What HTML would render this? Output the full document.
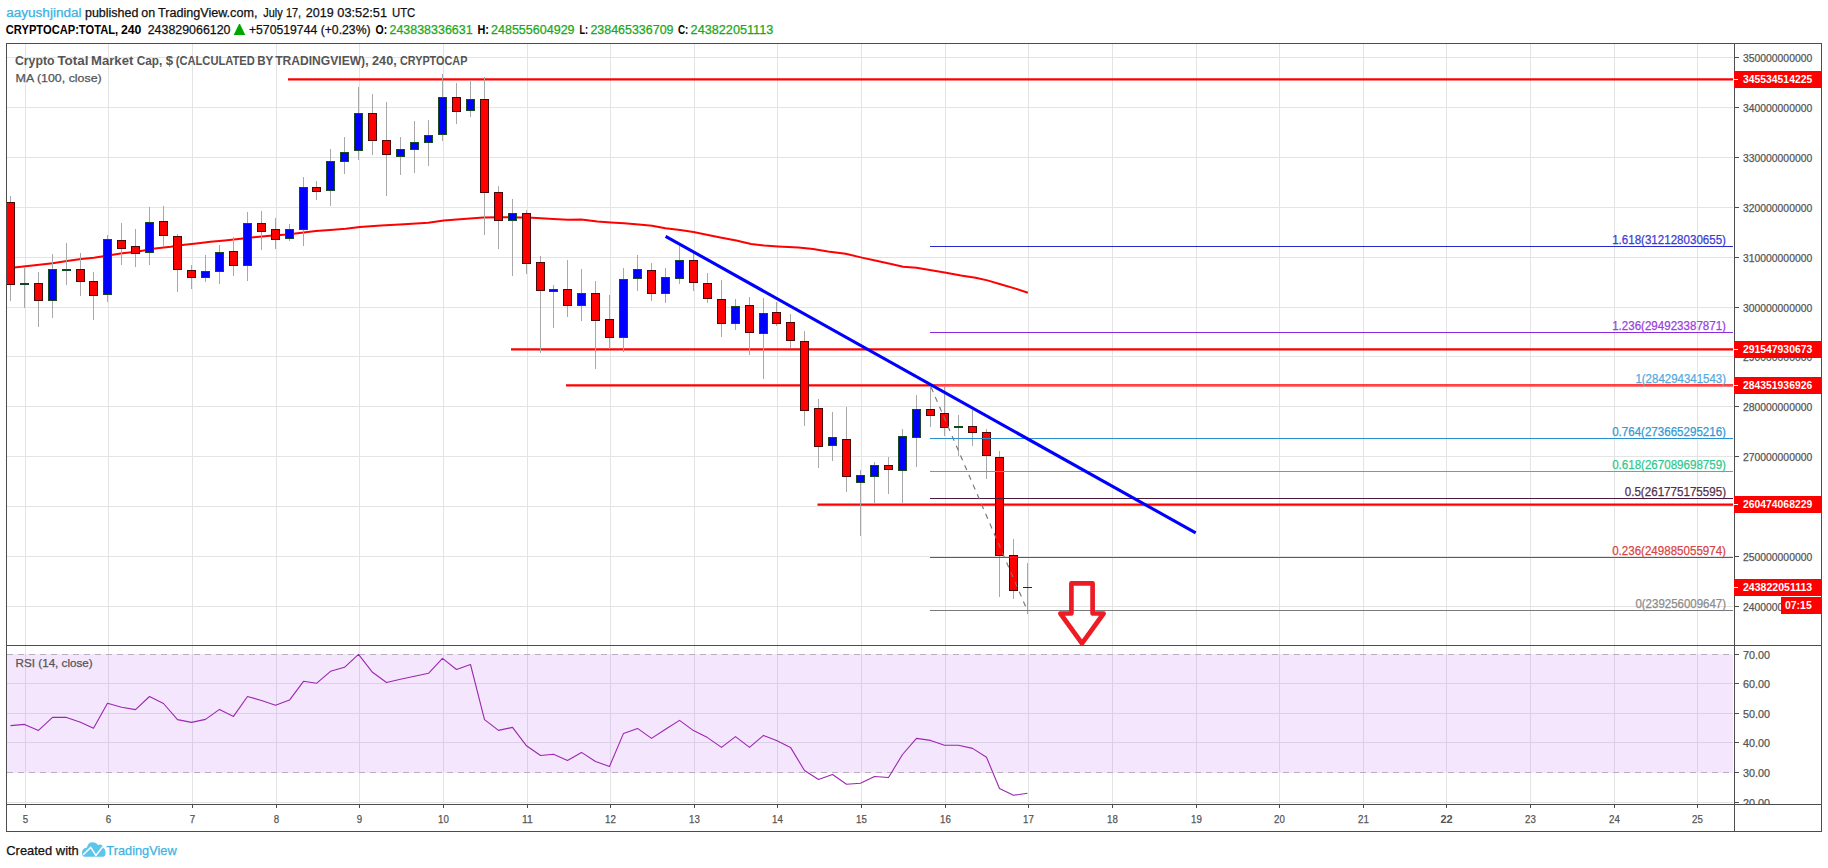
<!DOCTYPE html>
<html lang="en"><head><meta charset="utf-8"><title>Crypto Total Market Cap chart</title>
<style>html,body{margin:0;padding:0;background:#fff;}svg text{font-family:"Liberation Sans",sans-serif;}</style></head>
<body>
<svg width="1828" height="868" viewBox="0 0 1828 868" style="display:block">
<rect x="0" y="0" width="1828" height="868" fill="#ffffff"/>
<g shape-rendering="crispEdges">
<rect x="7" y="654" width="1726" height="119" fill="#f4e6fd"/>
<rect x="25" y="44" width="1" height="601" fill="#e4e4e4"/>
<rect x="25" y="646" width="1" height="158" fill="#e4e4e4"/>
<rect x="25" y="654" width="1" height="118" fill="#dccfe8"/>
<rect x="108" y="44" width="1" height="601" fill="#e4e4e4"/>
<rect x="108" y="646" width="1" height="158" fill="#e4e4e4"/>
<rect x="108" y="654" width="1" height="118" fill="#dccfe8"/>
<rect x="192" y="44" width="1" height="601" fill="#e4e4e4"/>
<rect x="192" y="646" width="1" height="158" fill="#e4e4e4"/>
<rect x="192" y="654" width="1" height="118" fill="#dccfe8"/>
<rect x="276" y="44" width="1" height="601" fill="#e4e4e4"/>
<rect x="276" y="646" width="1" height="158" fill="#e4e4e4"/>
<rect x="276" y="654" width="1" height="118" fill="#dccfe8"/>
<rect x="359" y="44" width="1" height="601" fill="#e4e4e4"/>
<rect x="359" y="646" width="1" height="158" fill="#e4e4e4"/>
<rect x="359" y="654" width="1" height="118" fill="#dccfe8"/>
<rect x="443" y="44" width="1" height="601" fill="#e4e4e4"/>
<rect x="443" y="646" width="1" height="158" fill="#e4e4e4"/>
<rect x="443" y="654" width="1" height="118" fill="#dccfe8"/>
<rect x="527" y="44" width="1" height="601" fill="#e4e4e4"/>
<rect x="527" y="646" width="1" height="158" fill="#e4e4e4"/>
<rect x="527" y="654" width="1" height="118" fill="#dccfe8"/>
<rect x="610" y="44" width="1" height="601" fill="#e4e4e4"/>
<rect x="610" y="646" width="1" height="158" fill="#e4e4e4"/>
<rect x="610" y="654" width="1" height="118" fill="#dccfe8"/>
<rect x="694" y="44" width="1" height="601" fill="#e4e4e4"/>
<rect x="694" y="646" width="1" height="158" fill="#e4e4e4"/>
<rect x="694" y="654" width="1" height="118" fill="#dccfe8"/>
<rect x="777" y="44" width="1" height="601" fill="#e4e4e4"/>
<rect x="777" y="646" width="1" height="158" fill="#e4e4e4"/>
<rect x="777" y="654" width="1" height="118" fill="#dccfe8"/>
<rect x="861" y="44" width="1" height="601" fill="#e4e4e4"/>
<rect x="861" y="646" width="1" height="158" fill="#e4e4e4"/>
<rect x="861" y="654" width="1" height="118" fill="#dccfe8"/>
<rect x="945" y="44" width="1" height="601" fill="#e4e4e4"/>
<rect x="945" y="646" width="1" height="158" fill="#e4e4e4"/>
<rect x="945" y="654" width="1" height="118" fill="#dccfe8"/>
<rect x="1028" y="44" width="1" height="601" fill="#e4e4e4"/>
<rect x="1028" y="646" width="1" height="158" fill="#e4e4e4"/>
<rect x="1028" y="654" width="1" height="118" fill="#dccfe8"/>
<rect x="1112" y="44" width="1" height="601" fill="#e4e4e4"/>
<rect x="1112" y="646" width="1" height="158" fill="#e4e4e4"/>
<rect x="1112" y="654" width="1" height="118" fill="#dccfe8"/>
<rect x="1196" y="44" width="1" height="601" fill="#e4e4e4"/>
<rect x="1196" y="646" width="1" height="158" fill="#e4e4e4"/>
<rect x="1196" y="654" width="1" height="118" fill="#dccfe8"/>
<rect x="1279" y="44" width="1" height="601" fill="#e4e4e4"/>
<rect x="1279" y="646" width="1" height="158" fill="#e4e4e4"/>
<rect x="1279" y="654" width="1" height="118" fill="#dccfe8"/>
<rect x="1363" y="44" width="1" height="601" fill="#e4e4e4"/>
<rect x="1363" y="646" width="1" height="158" fill="#e4e4e4"/>
<rect x="1363" y="654" width="1" height="118" fill="#dccfe8"/>
<rect x="1446" y="44" width="1" height="601" fill="#e4e4e4"/>
<rect x="1446" y="646" width="1" height="158" fill="#e4e4e4"/>
<rect x="1446" y="654" width="1" height="118" fill="#dccfe8"/>
<rect x="1530" y="44" width="1" height="601" fill="#e4e4e4"/>
<rect x="1530" y="646" width="1" height="158" fill="#e4e4e4"/>
<rect x="1530" y="654" width="1" height="118" fill="#dccfe8"/>
<rect x="1614" y="44" width="1" height="601" fill="#e4e4e4"/>
<rect x="1614" y="646" width="1" height="158" fill="#e4e4e4"/>
<rect x="1614" y="654" width="1" height="118" fill="#dccfe8"/>
<rect x="1697" y="44" width="1" height="601" fill="#e4e4e4"/>
<rect x="1697" y="646" width="1" height="158" fill="#e4e4e4"/>
<rect x="1697" y="654" width="1" height="118" fill="#dccfe8"/>
<rect x="7" y="57" width="1726" height="1" fill="#e4e4e4"/>
<rect x="7" y="107" width="1726" height="1" fill="#e4e4e4"/>
<rect x="7" y="157" width="1726" height="1" fill="#e4e4e4"/>
<rect x="7" y="207" width="1726" height="1" fill="#e4e4e4"/>
<rect x="7" y="257" width="1726" height="1" fill="#e4e4e4"/>
<rect x="7" y="307" width="1726" height="1" fill="#e4e4e4"/>
<rect x="7" y="356" width="1726" height="1" fill="#e4e4e4"/>
<rect x="7" y="406" width="1726" height="1" fill="#e4e4e4"/>
<rect x="7" y="456" width="1726" height="1" fill="#e4e4e4"/>
<rect x="7" y="506" width="1726" height="1" fill="#e4e4e4"/>
<rect x="7" y="556" width="1726" height="1" fill="#e4e4e4"/>
<rect x="7" y="606" width="1726" height="1" fill="#e4e4e4"/>
<rect x="7" y="683" width="1726" height="1" fill="#dccfe8"/>
<rect x="7" y="713" width="1726" height="1" fill="#dccfe8"/>
<rect x="7" y="742" width="1726" height="1" fill="#dccfe8"/>
<rect x="7" y="802" width="1726" height="1" fill="#e4e4e4"/>
<line x1="7" y1="654.5" x2="1733" y2="654.5" stroke="#b8b0bc" stroke-width="1" stroke-dasharray="6,5"/>
<line x1="7" y1="772.5" x2="1733" y2="772.5" stroke="#b8b0bc" stroke-width="1" stroke-dasharray="6,5"/>
</g>
<polyline fill="none" stroke="#ff0000" stroke-width="2" stroke-linejoin="round" points="7,268.2 14.2,267.4 37,264.9 52.6,263.2 66.9,260.9 81.1,258.9 93.9,257.8 108.1,255.5 122.3,253.2 136.6,251.8 155,248.4 170.7,246.7 182.1,245 196.3,243.5 210.5,241.8 224.8,240.4 236.1,239.3 247.5,238.1 261.7,236.4 273.1,235.6 287.3,234.4 301.6,232.7 315.8,231 330,229.9 345.7,228.7 359.9,227 381.2,225.6 404,224.2 428.2,222.8 443.8,220.5 466.6,218.8 483.6,217.6 500,217.2 532.5,217.7 553.2,218.9 567.9,219.8 581.2,219.5 597.5,221.6 610.8,222.5 624.1,223.3 638.8,224.5 652.1,225.7 665.4,228.3 680.2,230.1 693.5,232 706.8,234.7 721.6,237.7 736.3,240.5 751.1,244 764.4,245.5 777.7,246.4 798.4,247.6 813.1,249 827.9,251.4 845.6,253.8 861.9,257.6 875.2,260.6 890,263.8 903.2,266.8 916.5,267.7 931.3,270.3 946.1,272.7 960.9,275.6 975.6,277.7 987.4,280.4 1002.2,284.8 1015.5,288.6 1027.9,292.8"/>
<line x1="288" y1="79.45" x2="1733" y2="79.45" stroke="#ff0000" stroke-width="2.2"/>
<line x1="511" y1="349.42" x2="1733" y2="349.42" stroke="#ff0000" stroke-width="2.2"/>
<line x1="566" y1="385.36" x2="1733" y2="385.36" stroke="#ff0000" stroke-width="2.2"/>
<line x1="817.5" y1="504.63" x2="1733" y2="504.63" stroke="#ff0000" stroke-width="2.2"/>
<g shape-rendering="crispEdges">
<rect x="10" y="196" width="1" height="105" fill="#a8a8a8"/>
<rect x="7" y="202" width="8" height="83" fill="#4a0808"/>
<rect x="7" y="203" width="7" height="81" fill="#ff0000"/>
<rect x="24" y="268" width="1" height="40" fill="#a8a8a8"/>
<rect x="20" y="283" width="9" height="2" fill="#0b4a22"/>
<rect x="38" y="272" width="1" height="55" fill="#a8a8a8"/>
<rect x="34" y="283" width="9" height="18" fill="#4a0808"/>
<rect x="35" y="284" width="7" height="16" fill="#ff0000"/>
<rect x="52" y="254" width="1" height="64" fill="#a8a8a8"/>
<rect x="48" y="269" width="9" height="32" fill="#1a4a20"/>
<rect x="49" y="270" width="7" height="30" fill="#0000ff"/>
<rect x="66" y="243" width="1" height="42" fill="#a8a8a8"/>
<rect x="62" y="269" width="9" height="2" fill="#0b4a22"/>
<rect x="80" y="253" width="1" height="43" fill="#a8a8a8"/>
<rect x="76" y="269" width="9" height="13" fill="#4a0808"/>
<rect x="77" y="270" width="7" height="11" fill="#ff0000"/>
<rect x="93" y="272" width="1" height="48" fill="#a8a8a8"/>
<rect x="89" y="281" width="9" height="15" fill="#4a0808"/>
<rect x="90" y="282" width="7" height="13" fill="#ff0000"/>
<rect x="107" y="235" width="1" height="67" fill="#a8a8a8"/>
<rect x="103" y="239" width="9" height="56" fill="#1a4a20"/>
<rect x="104" y="240" width="7" height="54" fill="#0000ff"/>
<rect x="121" y="223" width="1" height="42" fill="#a8a8a8"/>
<rect x="117" y="240" width="9" height="9" fill="#4a0808"/>
<rect x="118" y="241" width="7" height="7" fill="#ff0000"/>
<rect x="135" y="229" width="1" height="38" fill="#a8a8a8"/>
<rect x="131" y="246" width="9" height="8" fill="#4a0808"/>
<rect x="132" y="247" width="7" height="6" fill="#ff0000"/>
<rect x="149" y="207" width="1" height="58" fill="#a8a8a8"/>
<rect x="145" y="222" width="9" height="31" fill="#1a4a20"/>
<rect x="146" y="223" width="7" height="29" fill="#0000ff"/>
<rect x="163" y="206" width="1" height="41" fill="#a8a8a8"/>
<rect x="159" y="221" width="9" height="15" fill="#4a0808"/>
<rect x="160" y="222" width="7" height="13" fill="#ff0000"/>
<rect x="177" y="234" width="1" height="58" fill="#a8a8a8"/>
<rect x="173" y="236" width="9" height="34" fill="#4a0808"/>
<rect x="174" y="237" width="7" height="32" fill="#ff0000"/>
<rect x="191" y="265" width="1" height="24" fill="#a8a8a8"/>
<rect x="187" y="270" width="9" height="8" fill="#4a0808"/>
<rect x="188" y="271" width="7" height="6" fill="#ff0000"/>
<rect x="205" y="255" width="1" height="27" fill="#a8a8a8"/>
<rect x="201" y="271" width="9" height="7" fill="#1a4a20"/>
<rect x="202" y="272" width="7" height="5" fill="#0000ff"/>
<rect x="219" y="245" width="1" height="39" fill="#a8a8a8"/>
<rect x="215" y="252" width="9" height="20" fill="#1a4a20"/>
<rect x="216" y="253" width="7" height="18" fill="#0000ff"/>
<rect x="233" y="237" width="1" height="39" fill="#a8a8a8"/>
<rect x="229" y="251" width="9" height="15" fill="#4a0808"/>
<rect x="230" y="252" width="7" height="13" fill="#ff0000"/>
<rect x="247" y="212" width="1" height="69" fill="#a8a8a8"/>
<rect x="243" y="223" width="9" height="43" fill="#1a4a20"/>
<rect x="244" y="224" width="7" height="41" fill="#0000ff"/>
<rect x="261" y="211" width="1" height="39" fill="#a8a8a8"/>
<rect x="257" y="223" width="9" height="9" fill="#4a0808"/>
<rect x="258" y="224" width="7" height="7" fill="#ff0000"/>
<rect x="275" y="218" width="1" height="31" fill="#a8a8a8"/>
<rect x="271" y="229" width="9" height="11" fill="#4a0808"/>
<rect x="272" y="230" width="7" height="9" fill="#ff0000"/>
<rect x="289" y="224" width="1" height="17" fill="#a8a8a8"/>
<rect x="285" y="229" width="9" height="10" fill="#1a4a20"/>
<rect x="286" y="230" width="7" height="8" fill="#0000ff"/>
<rect x="303" y="177" width="1" height="69" fill="#a8a8a8"/>
<rect x="299" y="187" width="9" height="43" fill="#1a4a20"/>
<rect x="300" y="188" width="7" height="41" fill="#0000ff"/>
<rect x="316" y="181" width="1" height="19" fill="#a8a8a8"/>
<rect x="312" y="187" width="9" height="5" fill="#4a0808"/>
<rect x="313" y="188" width="7" height="3" fill="#ff0000"/>
<rect x="330" y="149" width="1" height="57" fill="#a8a8a8"/>
<rect x="326" y="161" width="9" height="30" fill="#1a4a20"/>
<rect x="327" y="162" width="7" height="28" fill="#0000ff"/>
<rect x="344" y="137" width="1" height="37" fill="#a8a8a8"/>
<rect x="340" y="152" width="9" height="10" fill="#1a4a20"/>
<rect x="341" y="153" width="7" height="8" fill="#0000ff"/>
<rect x="358" y="87" width="1" height="73" fill="#a8a8a8"/>
<rect x="354" y="113" width="9" height="38" fill="#1a4a20"/>
<rect x="355" y="114" width="7" height="36" fill="#0000ff"/>
<rect x="372" y="94" width="1" height="61" fill="#a8a8a8"/>
<rect x="368" y="113" width="9" height="28" fill="#4a0808"/>
<rect x="369" y="114" width="7" height="26" fill="#ff0000"/>
<rect x="386" y="102" width="1" height="94" fill="#a8a8a8"/>
<rect x="382" y="140" width="9" height="15" fill="#4a0808"/>
<rect x="383" y="141" width="7" height="13" fill="#ff0000"/>
<rect x="400" y="137" width="1" height="38" fill="#a8a8a8"/>
<rect x="396" y="149" width="9" height="8" fill="#1a4a20"/>
<rect x="397" y="150" width="7" height="6" fill="#0000ff"/>
<rect x="414" y="121" width="1" height="52" fill="#a8a8a8"/>
<rect x="410" y="142" width="9" height="8" fill="#1a4a20"/>
<rect x="411" y="143" width="7" height="6" fill="#0000ff"/>
<rect x="428" y="120" width="1" height="46" fill="#a8a8a8"/>
<rect x="424" y="135" width="9" height="8" fill="#1a4a20"/>
<rect x="425" y="136" width="7" height="6" fill="#0000ff"/>
<rect x="442" y="74" width="1" height="67" fill="#a8a8a8"/>
<rect x="438" y="97" width="9" height="38" fill="#1a4a20"/>
<rect x="439" y="98" width="7" height="36" fill="#0000ff"/>
<rect x="456" y="83" width="1" height="41" fill="#a8a8a8"/>
<rect x="452" y="97" width="9" height="15" fill="#4a0808"/>
<rect x="453" y="98" width="7" height="13" fill="#ff0000"/>
<rect x="470" y="80" width="1" height="37" fill="#a8a8a8"/>
<rect x="466" y="99" width="9" height="12" fill="#1a4a20"/>
<rect x="467" y="100" width="7" height="10" fill="#0000ff"/>
<rect x="484" y="77" width="1" height="158" fill="#a8a8a8"/>
<rect x="480" y="99" width="9" height="94" fill="#4a0808"/>
<rect x="481" y="100" width="7" height="92" fill="#ff0000"/>
<rect x="498" y="186" width="1" height="63" fill="#a8a8a8"/>
<rect x="494" y="192" width="9" height="29" fill="#4a0808"/>
<rect x="495" y="193" width="7" height="27" fill="#ff0000"/>
<rect x="512" y="199" width="1" height="77" fill="#a8a8a8"/>
<rect x="508" y="213" width="9" height="8" fill="#1a4a20"/>
<rect x="509" y="214" width="7" height="6" fill="#0000ff"/>
<rect x="526" y="210" width="1" height="64" fill="#a8a8a8"/>
<rect x="522" y="213" width="9" height="51" fill="#4a0808"/>
<rect x="523" y="214" width="7" height="49" fill="#ff0000"/>
<rect x="540" y="256" width="1" height="97" fill="#a8a8a8"/>
<rect x="536" y="262" width="9" height="29" fill="#4a0808"/>
<rect x="537" y="263" width="7" height="27" fill="#ff0000"/>
<rect x="553" y="285" width="1" height="43" fill="#a8a8a8"/>
<rect x="549" y="289" width="9" height="3" fill="#1a4a20"/>
<rect x="550" y="290" width="7" height="1" fill="#0000ff"/>
<rect x="567" y="260" width="1" height="57" fill="#a8a8a8"/>
<rect x="563" y="289" width="9" height="17" fill="#4a0808"/>
<rect x="564" y="290" width="7" height="15" fill="#ff0000"/>
<rect x="581" y="269" width="1" height="52" fill="#a8a8a8"/>
<rect x="577" y="293" width="9" height="13" fill="#1a4a20"/>
<rect x="578" y="294" width="7" height="11" fill="#0000ff"/>
<rect x="595" y="281" width="1" height="88" fill="#a8a8a8"/>
<rect x="591" y="293" width="9" height="28" fill="#4a0808"/>
<rect x="592" y="294" width="7" height="26" fill="#ff0000"/>
<rect x="609" y="295" width="1" height="54" fill="#a8a8a8"/>
<rect x="605" y="319" width="9" height="19" fill="#4a0808"/>
<rect x="606" y="320" width="7" height="17" fill="#ff0000"/>
<rect x="623" y="268" width="1" height="84" fill="#a8a8a8"/>
<rect x="619" y="279" width="9" height="59" fill="#1a4a20"/>
<rect x="620" y="280" width="7" height="57" fill="#0000ff"/>
<rect x="637" y="255" width="1" height="36" fill="#a8a8a8"/>
<rect x="633" y="269" width="9" height="10" fill="#1a4a20"/>
<rect x="634" y="270" width="7" height="8" fill="#0000ff"/>
<rect x="651" y="263" width="1" height="38" fill="#a8a8a8"/>
<rect x="647" y="270" width="9" height="24" fill="#4a0808"/>
<rect x="648" y="271" width="7" height="22" fill="#ff0000"/>
<rect x="665" y="268" width="1" height="35" fill="#a8a8a8"/>
<rect x="661" y="277" width="9" height="17" fill="#1a4a20"/>
<rect x="662" y="278" width="7" height="15" fill="#0000ff"/>
<rect x="679" y="246" width="1" height="38" fill="#a8a8a8"/>
<rect x="675" y="260" width="9" height="19" fill="#1a4a20"/>
<rect x="676" y="261" width="7" height="17" fill="#0000ff"/>
<rect x="693" y="253" width="1" height="38" fill="#a8a8a8"/>
<rect x="689" y="260" width="9" height="23" fill="#4a0808"/>
<rect x="690" y="261" width="7" height="21" fill="#ff0000"/>
<rect x="707" y="273" width="1" height="30" fill="#a8a8a8"/>
<rect x="703" y="283" width="9" height="16" fill="#4a0808"/>
<rect x="704" y="284" width="7" height="14" fill="#ff0000"/>
<rect x="721" y="280" width="1" height="57" fill="#a8a8a8"/>
<rect x="717" y="299" width="9" height="25" fill="#4a0808"/>
<rect x="718" y="300" width="7" height="23" fill="#ff0000"/>
<rect x="735" y="299" width="1" height="31" fill="#a8a8a8"/>
<rect x="731" y="306" width="9" height="18" fill="#1a4a20"/>
<rect x="732" y="307" width="7" height="16" fill="#0000ff"/>
<rect x="749" y="297" width="1" height="58" fill="#a8a8a8"/>
<rect x="745" y="305" width="9" height="28" fill="#4a0808"/>
<rect x="746" y="306" width="7" height="26" fill="#ff0000"/>
<rect x="763" y="298" width="1" height="81" fill="#a8a8a8"/>
<rect x="759" y="313" width="9" height="21" fill="#1a4a20"/>
<rect x="760" y="314" width="7" height="19" fill="#0000ff"/>
<rect x="776" y="302" width="1" height="24" fill="#a8a8a8"/>
<rect x="772" y="312" width="9" height="12" fill="#4a0808"/>
<rect x="773" y="313" width="7" height="10" fill="#ff0000"/>
<rect x="790" y="314" width="1" height="34" fill="#a8a8a8"/>
<rect x="786" y="322" width="9" height="19" fill="#4a0808"/>
<rect x="787" y="323" width="7" height="17" fill="#ff0000"/>
<rect x="804" y="331" width="1" height="95" fill="#a8a8a8"/>
<rect x="800" y="341" width="9" height="70" fill="#4a0808"/>
<rect x="801" y="342" width="7" height="68" fill="#ff0000"/>
<rect x="818" y="399" width="1" height="69" fill="#a8a8a8"/>
<rect x="814" y="408" width="9" height="39" fill="#4a0808"/>
<rect x="815" y="409" width="7" height="37" fill="#ff0000"/>
<rect x="832" y="412" width="1" height="49" fill="#a8a8a8"/>
<rect x="828" y="437" width="9" height="9" fill="#1a4a20"/>
<rect x="829" y="438" width="7" height="7" fill="#0000ff"/>
<rect x="846" y="407" width="1" height="85" fill="#a8a8a8"/>
<rect x="842" y="439" width="9" height="38" fill="#4a0808"/>
<rect x="843" y="440" width="7" height="36" fill="#ff0000"/>
<rect x="860" y="470" width="1" height="66" fill="#a8a8a8"/>
<rect x="856" y="475" width="9" height="8" fill="#1a4a20"/>
<rect x="857" y="476" width="7" height="6" fill="#0000ff"/>
<rect x="874" y="462" width="1" height="41" fill="#a8a8a8"/>
<rect x="870" y="465" width="9" height="12" fill="#1a4a20"/>
<rect x="871" y="466" width="7" height="10" fill="#0000ff"/>
<rect x="888" y="457" width="1" height="37" fill="#a8a8a8"/>
<rect x="884" y="465" width="9" height="5" fill="#4a0808"/>
<rect x="885" y="466" width="7" height="3" fill="#ff0000"/>
<rect x="902" y="429" width="1" height="75" fill="#a8a8a8"/>
<rect x="898" y="436" width="9" height="35" fill="#1a4a20"/>
<rect x="899" y="437" width="7" height="33" fill="#0000ff"/>
<rect x="916" y="395" width="1" height="72" fill="#a8a8a8"/>
<rect x="912" y="409" width="9" height="29" fill="#1a4a20"/>
<rect x="913" y="410" width="7" height="27" fill="#0000ff"/>
<rect x="930" y="385" width="1" height="42" fill="#a8a8a8"/>
<rect x="926" y="409" width="9" height="7" fill="#4a0808"/>
<rect x="927" y="410" width="7" height="5" fill="#ff0000"/>
<rect x="944" y="387" width="1" height="49" fill="#a8a8a8"/>
<rect x="940" y="413" width="9" height="15" fill="#4a0808"/>
<rect x="941" y="414" width="7" height="13" fill="#ff0000"/>
<rect x="958" y="415" width="1" height="41" fill="#a8a8a8"/>
<rect x="954" y="426" width="9" height="2" fill="#0b4a22"/>
<rect x="972" y="410" width="1" height="36" fill="#a8a8a8"/>
<rect x="968" y="426" width="9" height="7" fill="#4a0808"/>
<rect x="969" y="427" width="7" height="5" fill="#ff0000"/>
<rect x="986" y="429" width="1" height="50" fill="#a8a8a8"/>
<rect x="982" y="432" width="9" height="24" fill="#4a0808"/>
<rect x="983" y="433" width="7" height="22" fill="#ff0000"/>
<rect x="999" y="451" width="1" height="146" fill="#a8a8a8"/>
<rect x="995" y="457" width="9" height="99" fill="#4a0808"/>
<rect x="996" y="458" width="7" height="97" fill="#ff0000"/>
<rect x="1013" y="539" width="1" height="60" fill="#a8a8a8"/>
<rect x="1009" y="555" width="9" height="36" fill="#4a0808"/>
<rect x="1010" y="556" width="7" height="34" fill="#ff0000"/>
<rect x="1027" y="563" width="1" height="51" fill="#a8a8a8"/>
<rect x="1023" y="587" width="9" height="1" fill="#6a0a10"/>
</g>
<g shape-rendering="crispEdges">
<rect x="930" y="246" width="803" height="1" fill="#2828d0"/>
<rect x="930" y="332" width="803" height="1" fill="#8a2be2"/>
<rect x="930" y="385" width="803" height="1" fill="#5b86b8"/>
<rect x="930" y="438" width="803" height="1" fill="#2a8fd0"/>
<rect x="930" y="471" width="803" height="1" fill="#2fc48a"/>
<rect x="930" y="498" width="803" height="1" fill="#4a1a3c"/>
<rect x="930" y="557" width="803" height="1" fill="#d42a2a"/>
<rect x="930" y="610" width="803" height="1" fill="#7a7a7a"/>
</g>
<line x1="930.5" y1="385.9" x2="1027.5" y2="610.9" stroke="#777777" stroke-width="1.15" stroke-dasharray="5.3,5.3" stroke-dashoffset="-1.5"/>
<line x1="665.6" y1="236.3" x2="1195.7" y2="532.9" stroke="#0000ff" stroke-width="3.1"/>
<polyline fill="none" stroke="#9c27b0" stroke-width="1.1" stroke-linejoin="round" points="10.5,725.6 24.5,724.4 38.5,730.4 52.5,717.4 66.5,717.4 80.5,722.2 93.5,728.2 107.5,703.3 121.5,707.3 135.5,709.6 149.5,696.5 163.5,703.5 177.5,719.6 191.5,722.4 205.5,719.4 219.5,709.4 233.5,716.4 247.5,696.5 261.5,700.5 275.5,705.3 289.5,700.1 303.5,681.3 316.5,683.3 330.5,671.3 344.5,667.3 358.5,654.4 372.5,672.3 386.5,682.5 400.5,679.3 414.5,676.3 428.5,673.3 442.5,658.4 456.5,669.5 470.5,664.5 484.5,719.6 498.5,730.4 512.5,727.4 526.5,745.8 540.5,755.5 553.5,754.3 567.5,760.5 581.5,752.4 595.5,761.5 609.5,766.5 623.5,733.4 637.5,728.4 651.5,738.4 665.5,729.2 679.5,720.4 693.5,730.6 707.5,737.6 721.5,747.4 735.5,736.6 749.5,747.4 763.5,735.4 776.5,740.4 790.5,747.4 804.5,770.5 818.5,779.5 832.5,774.5 846.5,784.3 860.5,783.3 874.5,776.5 888.5,777.5 902.5,754.5 916.5,738.4 930.5,740.4 944.5,745.2 958.5,745.2 972.5,748.4 986.5,757.3 999.5,788.5 1013.5,795.3 1027.5,793.3"/>
<g shape-rendering="crispEdges">
<rect x="6" y="43" width="1816" height="1" fill="#4d4d4d"/>
<rect x="6" y="831" width="1816" height="1" fill="#4d4d4d"/>
<rect x="6" y="43" width="1" height="789" fill="#4d4d4d"/>
<rect x="1821" y="43" width="1" height="789" fill="#4d4d4d"/>
<rect x="1734" y="43" width="1" height="789" fill="#4d4d4d"/>
<rect x="6" y="645" width="1816" height="1" fill="#4d4d4d"/>
<rect x="6" y="804" width="1816" height="1" fill="#4d4d4d"/>
<rect x="25" y="805" width="1" height="3" fill="#4d4d4d"/>
<rect x="108" y="805" width="1" height="3" fill="#4d4d4d"/>
<rect x="192" y="805" width="1" height="3" fill="#4d4d4d"/>
<rect x="276" y="805" width="1" height="3" fill="#4d4d4d"/>
<rect x="359" y="805" width="1" height="3" fill="#4d4d4d"/>
<rect x="443" y="805" width="1" height="3" fill="#4d4d4d"/>
<rect x="527" y="805" width="1" height="3" fill="#4d4d4d"/>
<rect x="610" y="805" width="1" height="3" fill="#4d4d4d"/>
<rect x="694" y="805" width="1" height="3" fill="#4d4d4d"/>
<rect x="777" y="805" width="1" height="3" fill="#4d4d4d"/>
<rect x="861" y="805" width="1" height="3" fill="#4d4d4d"/>
<rect x="945" y="805" width="1" height="3" fill="#4d4d4d"/>
<rect x="1028" y="805" width="1" height="3" fill="#4d4d4d"/>
<rect x="1112" y="805" width="1" height="3" fill="#4d4d4d"/>
<rect x="1196" y="805" width="1" height="3" fill="#4d4d4d"/>
<rect x="1279" y="805" width="1" height="3" fill="#4d4d4d"/>
<rect x="1363" y="805" width="1" height="3" fill="#4d4d4d"/>
<rect x="1446" y="805" width="1" height="3" fill="#4d4d4d"/>
<rect x="1530" y="805" width="1" height="3" fill="#4d4d4d"/>
<rect x="1614" y="805" width="1" height="3" fill="#4d4d4d"/>
<rect x="1697" y="805" width="1" height="3" fill="#4d4d4d"/>
<rect x="1735" y="57" width="4" height="1" fill="#4d4d4d"/>
<rect x="1735" y="107" width="4" height="1" fill="#4d4d4d"/>
<rect x="1735" y="157" width="4" height="1" fill="#4d4d4d"/>
<rect x="1735" y="207" width="4" height="1" fill="#4d4d4d"/>
<rect x="1735" y="257" width="4" height="1" fill="#4d4d4d"/>
<rect x="1735" y="307" width="4" height="1" fill="#4d4d4d"/>
<rect x="1735" y="356" width="4" height="1" fill="#4d4d4d"/>
<rect x="1735" y="406" width="4" height="1" fill="#4d4d4d"/>
<rect x="1735" y="456" width="4" height="1" fill="#4d4d4d"/>
<rect x="1735" y="506" width="4" height="1" fill="#4d4d4d"/>
<rect x="1735" y="556" width="4" height="1" fill="#4d4d4d"/>
<rect x="1735" y="606" width="4" height="1" fill="#4d4d4d"/>
<rect x="1735" y="654" width="4" height="1" fill="#4d4d4d"/>
<rect x="1735" y="683" width="4" height="1" fill="#4d4d4d"/>
<rect x="1735" y="713" width="4" height="1" fill="#4d4d4d"/>
<rect x="1735" y="742" width="4" height="1" fill="#4d4d4d"/>
<rect x="1735" y="772" width="4" height="1" fill="#4d4d4d"/>
<rect x="1735" y="802" width="4" height="1" fill="#4d4d4d"/>
</g>
<path d="M1071.4,583.4 H1092.6 V613.5 H1103.6 L1082,643.3 L1060.4,613.5 H1071.4 Z" fill="none" stroke="#ed1c24" stroke-width="4.7" stroke-linejoin="round"/>
<g font-family="Liberation Sans, sans-serif">
<text x="1743" y="61.7" font-size="11" fill="#555555" stroke="#555555" stroke-width="0.25" textLength="69.2" lengthAdjust="spacingAndGlyphs" xml:space="preserve">350000000000</text>
<text x="1743" y="111.7" font-size="11" fill="#555555" stroke="#555555" stroke-width="0.25" textLength="69.2" lengthAdjust="spacingAndGlyphs" xml:space="preserve">340000000000</text>
<text x="1743" y="161.7" font-size="11" fill="#555555" stroke="#555555" stroke-width="0.25" textLength="69.2" lengthAdjust="spacingAndGlyphs" xml:space="preserve">330000000000</text>
<text x="1743" y="211.7" font-size="11" fill="#555555" stroke="#555555" stroke-width="0.25" textLength="69.2" lengthAdjust="spacingAndGlyphs" xml:space="preserve">320000000000</text>
<text x="1743" y="261.7" font-size="11" fill="#555555" stroke="#555555" stroke-width="0.25" textLength="69.2" lengthAdjust="spacingAndGlyphs" xml:space="preserve">310000000000</text>
<text x="1743" y="311.7" font-size="11" fill="#555555" stroke="#555555" stroke-width="0.25" textLength="69.2" lengthAdjust="spacingAndGlyphs" xml:space="preserve">300000000000</text>
<text x="1743" y="360.7" font-size="11" fill="#555555" stroke="#555555" stroke-width="0.25" textLength="69.2" lengthAdjust="spacingAndGlyphs" xml:space="preserve">290000000000</text>
<text x="1743" y="410.7" font-size="11" fill="#555555" stroke="#555555" stroke-width="0.25" textLength="69.2" lengthAdjust="spacingAndGlyphs" xml:space="preserve">280000000000</text>
<text x="1743" y="460.7" font-size="11" fill="#555555" stroke="#555555" stroke-width="0.25" textLength="69.2" lengthAdjust="spacingAndGlyphs" xml:space="preserve">270000000000</text>
<text x="1743" y="510.7" font-size="11" fill="#555555" stroke="#555555" stroke-width="0.25" textLength="69.2" lengthAdjust="spacingAndGlyphs" xml:space="preserve">260000000000</text>
<text x="1743" y="560.7" font-size="11" fill="#555555" stroke="#555555" stroke-width="0.25" textLength="69.2" lengthAdjust="spacingAndGlyphs" xml:space="preserve">250000000000</text>
<text x="1743" y="610.7" font-size="11" fill="#555555" stroke="#555555" stroke-width="0.25" textLength="69.2" lengthAdjust="spacingAndGlyphs" xml:space="preserve">240000000000</text>
<text x="1743" y="658.7" font-size="11" fill="#555555" stroke="#555555" stroke-width="0.25" textLength="27" lengthAdjust="spacingAndGlyphs" xml:space="preserve">70.00</text>
<text x="1743" y="687.7" font-size="11" fill="#555555" stroke="#555555" stroke-width="0.25" textLength="27" lengthAdjust="spacingAndGlyphs" xml:space="preserve">60.00</text>
<text x="1743" y="717.7" font-size="11" fill="#555555" stroke="#555555" stroke-width="0.25" textLength="27" lengthAdjust="spacingAndGlyphs" xml:space="preserve">50.00</text>
<text x="1743" y="746.7" font-size="11" fill="#555555" stroke="#555555" stroke-width="0.25" textLength="27" lengthAdjust="spacingAndGlyphs" xml:space="preserve">40.00</text>
<text x="1743" y="776.7" font-size="11" fill="#555555" stroke="#555555" stroke-width="0.25" textLength="27" lengthAdjust="spacingAndGlyphs" xml:space="preserve">30.00</text>
<text x="1743" y="806.7" font-size="11" fill="#555555" stroke="#555555" stroke-width="0.25" textLength="27" lengthAdjust="spacingAndGlyphs" xml:space="preserve">20.00</text>
<rect x="1735" y="805" width="86" height="26" fill="#fff"/>
<text x="25.5" y="823" font-size="11" fill="#555555" stroke="#555555" stroke-width="0.25" textLength="5.4" lengthAdjust="spacingAndGlyphs" text-anchor="middle" xml:space="preserve">5</text>
<text x="108.5" y="823" font-size="11" fill="#555555" stroke="#555555" stroke-width="0.25" textLength="5.4" lengthAdjust="spacingAndGlyphs" text-anchor="middle" xml:space="preserve">6</text>
<text x="192.5" y="823" font-size="11" fill="#555555" stroke="#555555" stroke-width="0.25" textLength="5.4" lengthAdjust="spacingAndGlyphs" text-anchor="middle" xml:space="preserve">7</text>
<text x="276.5" y="823" font-size="11" fill="#555555" stroke="#555555" stroke-width="0.25" textLength="5.4" lengthAdjust="spacingAndGlyphs" text-anchor="middle" xml:space="preserve">8</text>
<text x="359.5" y="823" font-size="11" fill="#555555" stroke="#555555" stroke-width="0.25" textLength="5.4" lengthAdjust="spacingAndGlyphs" text-anchor="middle" xml:space="preserve">9</text>
<text x="443.5" y="823" font-size="11" fill="#555555" stroke="#555555" stroke-width="0.25" textLength="10.8" lengthAdjust="spacingAndGlyphs" text-anchor="middle" xml:space="preserve">10</text>
<text x="527.5" y="823" font-size="11" fill="#555555" stroke="#555555" stroke-width="0.25" textLength="10.8" lengthAdjust="spacingAndGlyphs" text-anchor="middle" xml:space="preserve">11</text>
<text x="610.5" y="823" font-size="11" fill="#555555" stroke="#555555" stroke-width="0.25" textLength="10.8" lengthAdjust="spacingAndGlyphs" text-anchor="middle" xml:space="preserve">12</text>
<text x="694.5" y="823" font-size="11" fill="#555555" stroke="#555555" stroke-width="0.25" textLength="10.8" lengthAdjust="spacingAndGlyphs" text-anchor="middle" xml:space="preserve">13</text>
<text x="777.5" y="823" font-size="11" fill="#555555" stroke="#555555" stroke-width="0.25" textLength="10.8" lengthAdjust="spacingAndGlyphs" text-anchor="middle" xml:space="preserve">14</text>
<text x="861.5" y="823" font-size="11" fill="#555555" stroke="#555555" stroke-width="0.25" textLength="10.8" lengthAdjust="spacingAndGlyphs" text-anchor="middle" xml:space="preserve">15</text>
<text x="945.5" y="823" font-size="11" fill="#555555" stroke="#555555" stroke-width="0.25" textLength="10.8" lengthAdjust="spacingAndGlyphs" text-anchor="middle" xml:space="preserve">16</text>
<text x="1028.5" y="823" font-size="11" fill="#555555" stroke="#555555" stroke-width="0.25" textLength="10.8" lengthAdjust="spacingAndGlyphs" text-anchor="middle" xml:space="preserve">17</text>
<text x="1112.5" y="823" font-size="11" fill="#555555" stroke="#555555" stroke-width="0.25" textLength="10.8" lengthAdjust="spacingAndGlyphs" text-anchor="middle" xml:space="preserve">18</text>
<text x="1196.5" y="823" font-size="11" fill="#555555" stroke="#555555" stroke-width="0.25" textLength="10.8" lengthAdjust="spacingAndGlyphs" text-anchor="middle" xml:space="preserve">19</text>
<text x="1279.5" y="823" font-size="11" fill="#555555" stroke="#555555" stroke-width="0.25" textLength="10.8" lengthAdjust="spacingAndGlyphs" text-anchor="middle" xml:space="preserve">20</text>
<text x="1363.5" y="823" font-size="11" fill="#555555" stroke="#555555" stroke-width="0.25" textLength="10.8" lengthAdjust="spacingAndGlyphs" text-anchor="middle" xml:space="preserve">21</text>
<text x="1446.5" y="823" font-size="11" fill="#555555" textLength="12.2" lengthAdjust="spacingAndGlyphs" font-weight="bold" text-anchor="middle" xml:space="preserve">22</text>
<text x="1530.5" y="823" font-size="11" fill="#555555" stroke="#555555" stroke-width="0.25" textLength="10.8" lengthAdjust="spacingAndGlyphs" text-anchor="middle" xml:space="preserve">23</text>
<text x="1614.5" y="823" font-size="11" fill="#555555" stroke="#555555" stroke-width="0.25" textLength="10.8" lengthAdjust="spacingAndGlyphs" text-anchor="middle" xml:space="preserve">24</text>
<text x="1697.5" y="823" font-size="11" fill="#555555" stroke="#555555" stroke-width="0.25" textLength="10.8" lengthAdjust="spacingAndGlyphs" text-anchor="middle" xml:space="preserve">25</text>
<rect x="1734" y="71" width="87" height="17" fill="#ff0000" shape-rendering="crispEdges"/>
<rect x="1734" y="79" width="4" height="1" fill="#fff" shape-rendering="crispEdges"/>
<text x="1743" y="82.9" font-size="11" fill="#ffffff" textLength="69.2" lengthAdjust="spacingAndGlyphs" font-weight="bold" xml:space="preserve">345534514225</text>
<rect x="1734" y="341" width="87" height="17" fill="#ff0000" shape-rendering="crispEdges"/>
<rect x="1734" y="349" width="4" height="1" fill="#fff" shape-rendering="crispEdges"/>
<text x="1743" y="352.9" font-size="11" fill="#ffffff" textLength="69.2" lengthAdjust="spacingAndGlyphs" font-weight="bold" xml:space="preserve">291547930673</text>
<rect x="1734" y="377" width="87" height="17" fill="#ff0000" shape-rendering="crispEdges"/>
<rect x="1734" y="385" width="4" height="1" fill="#fff" shape-rendering="crispEdges"/>
<text x="1743" y="388.9" font-size="11" fill="#ffffff" textLength="69.2" lengthAdjust="spacingAndGlyphs" font-weight="bold" xml:space="preserve">284351936926</text>
<rect x="1734" y="496" width="87" height="17" fill="#ff0000" shape-rendering="crispEdges"/>
<rect x="1734" y="504" width="4" height="1" fill="#fff" shape-rendering="crispEdges"/>
<text x="1743" y="507.9" font-size="11" fill="#ffffff" textLength="69.2" lengthAdjust="spacingAndGlyphs" font-weight="bold" xml:space="preserve">260474068229</text>
<rect x="1734" y="579" width="87" height="17" fill="#ff0000" shape-rendering="crispEdges"/>
<rect x="1734" y="587" width="4" height="1" fill="#fff" shape-rendering="crispEdges"/>
<text x="1743" y="590.9" font-size="11" fill="#ffffff" textLength="69.2" lengthAdjust="spacingAndGlyphs" font-weight="bold" xml:space="preserve">243822051113</text>
<rect x="1781" y="597" width="40" height="17" fill="#ff0000" shape-rendering="crispEdges"/>
<text x="1785" y="608.8" font-size="10.8" fill="#ffffff" textLength="26.7" lengthAdjust="spacingAndGlyphs" font-weight="bold" xml:space="preserve">07:15</text>
<text x="1612.16" y="244" font-size="12.1" fill="#3c3cd4" stroke="#3c3cd4" stroke-width="0.25" textLength="113.8" lengthAdjust="spacingAndGlyphs" xml:space="preserve">1.618(312128030655)</text>
<text x="1612.16" y="330" font-size="12.1" fill="#9a3fe0" stroke="#9a3fe0" stroke-width="0.25" textLength="113.8" lengthAdjust="spacingAndGlyphs" xml:space="preserve">1.236(294923387871)</text>
<text x="1635.43" y="383" font-size="12.1" fill="#55aadd" stroke="#55aadd" stroke-width="0.25" textLength="90.6" lengthAdjust="spacingAndGlyphs" xml:space="preserve">1(284294341543)</text>
<text x="1612.16" y="436" font-size="12.1" fill="#3399d5" stroke="#3399d5" stroke-width="0.25" textLength="113.8" lengthAdjust="spacingAndGlyphs" xml:space="preserve">0.764(273665295216)</text>
<text x="1612.16" y="469" font-size="12.1" fill="#2fc98f" stroke="#2fc98f" stroke-width="0.25" textLength="113.8" lengthAdjust="spacingAndGlyphs" xml:space="preserve">0.618(267089698759)</text>
<text x="1624.74" y="496" font-size="12.1" fill="#553048" stroke="#553048" stroke-width="0.25" textLength="101.3" lengthAdjust="spacingAndGlyphs" xml:space="preserve">0.5(261775175595)</text>
<text x="1612.16" y="555" font-size="12.1" fill="#d84545" stroke="#d84545" stroke-width="0.25" textLength="113.8" lengthAdjust="spacingAndGlyphs" xml:space="preserve">0.236(249885055974)</text>
<text x="1635.43" y="608" font-size="12.1" fill="#8c8c8c" stroke="#8c8c8c" stroke-width="0.25" textLength="90.6" lengthAdjust="spacingAndGlyphs" xml:space="preserve">0(239256009647)</text>
<text x="15.0" y="64.8" font-size="12.3" fill="#555555" textLength="39.5" lengthAdjust="spacingAndGlyphs" font-weight="bold" xml:space="preserve">Crypto</text>
<text x="57.4" y="64.8" font-size="12.3" fill="#555555" textLength="31.1" lengthAdjust="spacingAndGlyphs" font-weight="bold" xml:space="preserve">Total</text>
<text x="91.1" y="64.8" font-size="12.3" fill="#555555" textLength="42.2" lengthAdjust="spacingAndGlyphs" font-weight="bold" xml:space="preserve">Market</text>
<text x="136.7" y="64.8" font-size="12.3" fill="#555555" textLength="25.6" lengthAdjust="spacingAndGlyphs" font-weight="bold" xml:space="preserve">Cap,</text>
<text x="165.8" y="64.8" font-size="12.3" fill="#555555" textLength="7.4" lengthAdjust="spacingAndGlyphs" font-weight="bold" xml:space="preserve">$</text>
<text x="175.7" y="64.8" font-size="12.3" fill="#555555" textLength="79.1" lengthAdjust="spacingAndGlyphs" font-weight="bold" xml:space="preserve">(CALCULATED</text>
<text x="257.2" y="64.8" font-size="12.3" fill="#555555" textLength="16.1" lengthAdjust="spacingAndGlyphs" font-weight="bold" xml:space="preserve">BY</text>
<text x="275.2" y="64.8" font-size="12.3" fill="#555555" textLength="93.3" lengthAdjust="spacingAndGlyphs" font-weight="bold" xml:space="preserve">TRADINGVIEW),</text>
<text x="372.1" y="64.8" font-size="12.3" fill="#555555" textLength="24.6" lengthAdjust="spacingAndGlyphs" font-weight="bold" xml:space="preserve">240,</text>
<text x="399.9" y="64.8" font-size="12.3" fill="#555555" textLength="67.5" lengthAdjust="spacingAndGlyphs" font-weight="bold" xml:space="preserve">CRYPTOCAP</text>
<text x="15.6" y="81.5" font-size="11.2" fill="#555555" stroke="#555555" stroke-width="0.25" textLength="86.1" lengthAdjust="spacingAndGlyphs" xml:space="preserve">MA (100, close)</text>
<text x="15.6" y="666.5" font-size="11.2" fill="#555555" stroke="#555555" stroke-width="0.25" textLength="77.1" lengthAdjust="spacingAndGlyphs" xml:space="preserve">RSI (14, close)</text>
<text x="6.2" y="16.7" font-size="12.3" fill="#3bb3e4" stroke="#3bb3e4" stroke-width="0.25" textLength="75.4" lengthAdjust="spacingAndGlyphs" xml:space="preserve">aayushjindal</text>
<text x="85.0" y="16.7" font-size="12.3" fill="#111111" stroke="#111111" stroke-width="0.25" textLength="53.4" lengthAdjust="spacingAndGlyphs" xml:space="preserve">published</text>
<text x="141.3" y="16.7" font-size="12.3" fill="#111111" stroke="#111111" stroke-width="0.25" textLength="13.8" lengthAdjust="spacingAndGlyphs" xml:space="preserve">on</text>
<text x="158.0" y="16.7" font-size="12.3" fill="#111111" stroke="#111111" stroke-width="0.25" textLength="99.4" lengthAdjust="spacingAndGlyphs" xml:space="preserve">TradingView.com,</text>
<text x="263.3" y="16.7" font-size="12.3" fill="#111111" stroke="#111111" stroke-width="0.25" textLength="19.4" lengthAdjust="spacingAndGlyphs" xml:space="preserve">July</text>
<text x="286.0" y="16.7" font-size="12.3" fill="#111111" stroke="#111111" stroke-width="0.25" textLength="15.1" lengthAdjust="spacingAndGlyphs" xml:space="preserve">17,</text>
<text x="305.8" y="16.7" font-size="12.3" fill="#111111" stroke="#111111" stroke-width="0.25" textLength="27.9" lengthAdjust="spacingAndGlyphs" xml:space="preserve">2019</text>
<text x="337.3" y="16.7" font-size="12.3" fill="#111111" stroke="#111111" stroke-width="0.25" textLength="49.7" lengthAdjust="spacingAndGlyphs" xml:space="preserve">03:52:51</text>
<text x="392.0" y="16.7" font-size="12.3" fill="#111111" stroke="#111111" stroke-width="0.25" textLength="23.3" lengthAdjust="spacingAndGlyphs" xml:space="preserve">UTC</text>
<text x="5.8" y="33.7" font-size="12.3" fill="#000000" textLength="112.3" lengthAdjust="spacingAndGlyphs" font-weight="bold" xml:space="preserve">CRYPTOCAP:TOTAL,</text>
<text x="120.9" y="33.7" font-size="12.3" fill="#000000" textLength="20.5" lengthAdjust="spacingAndGlyphs" font-weight="bold" xml:space="preserve">240</text>
<text x="147.7" y="33.7" font-size="12.3" fill="#111111" stroke="#111111" stroke-width="0.25" textLength="82.8" lengthAdjust="spacingAndGlyphs" xml:space="preserve">243829066120</text>
<path d="M239,24 L240,24 L245.3,35 L233.7,35 Z" fill="#00a600"/>
<text x="248.9" y="33.7" font-size="12.3" fill="#111111" stroke="#111111" stroke-width="0.25" textLength="121.7" lengthAdjust="spacingAndGlyphs" xml:space="preserve">+570519744 (+0.23%)</text>
<text x="375.5" y="33.7" font-size="12.3" fill="#000000" textLength="11.7" lengthAdjust="spacingAndGlyphs" font-weight="bold" xml:space="preserve">O:</text>
<text x="389.5" y="33.7" font-size="12.3" fill="#1aa81a" stroke="#1aa81a" stroke-width="0.25" textLength="83.1" lengthAdjust="spacingAndGlyphs" xml:space="preserve">243838336631</text>
<text x="477.5" y="33.7" font-size="12.3" fill="#000000" textLength="11.5" lengthAdjust="spacingAndGlyphs" font-weight="bold" xml:space="preserve">H:</text>
<text x="491" y="33.7" font-size="12.3" fill="#1aa81a" stroke="#1aa81a" stroke-width="0.25" textLength="83.6" lengthAdjust="spacingAndGlyphs" xml:space="preserve">248555604929</text>
<text x="579.4" y="33.7" font-size="12.3" fill="#000000" textLength="8.6" lengthAdjust="spacingAndGlyphs" font-weight="bold" xml:space="preserve">L:</text>
<text x="590.4" y="33.7" font-size="12.3" fill="#1aa81a" stroke="#1aa81a" stroke-width="0.25" textLength="83.1" lengthAdjust="spacingAndGlyphs" xml:space="preserve">238465336709</text>
<text x="678" y="33.7" font-size="12.3" fill="#000000" textLength="10.4" lengthAdjust="spacingAndGlyphs" font-weight="bold" xml:space="preserve">C:</text>
<text x="690.6" y="33.7" font-size="12.3" fill="#1aa81a" stroke="#1aa81a" stroke-width="0.25" textLength="82.7" lengthAdjust="spacingAndGlyphs" xml:space="preserve">243822051113</text>
<text x="6.3" y="854.9" font-size="13.3" fill="#111111" stroke="#111111" stroke-width="0.25" textLength="72.5" lengthAdjust="spacingAndGlyphs" xml:space="preserve">Created with</text>
<text x="106.3" y="854.9" font-size="13.3" fill="#3bb3e4" stroke="#3bb3e4" stroke-width="0.25" textLength="70.4" lengthAdjust="spacingAndGlyphs" xml:space="preserve">TradingView</text>
</g>
<path d="M84.5,856.8 C82.8,856.8 82,854.8 82,852.8 C82,850.2 83.5,848.4 85.5,848 C86,847.9 86.6,847.6 87,847.2 C87.5,844.3 89.8,842.3 92.5,842.3 C94.8,842.3 96.8,843.4 98,845 C98.6,844.6 99.4,844.4 100.2,844.4 C101.6,844.4 102.6,845.6 102.8,847.2 C104.5,848.2 105.6,850.6 105.6,853 C105.6,855.2 104.6,856.8 103,856.8 Z" fill="#5cc5e9"/>
<polyline points="83.2,854.7 90.7,847.4 95.9,855.5 102.6,847" fill="none" stroke="#ffffff" stroke-width="1.45" stroke-linejoin="miter"/>
</svg>
</body></html>
